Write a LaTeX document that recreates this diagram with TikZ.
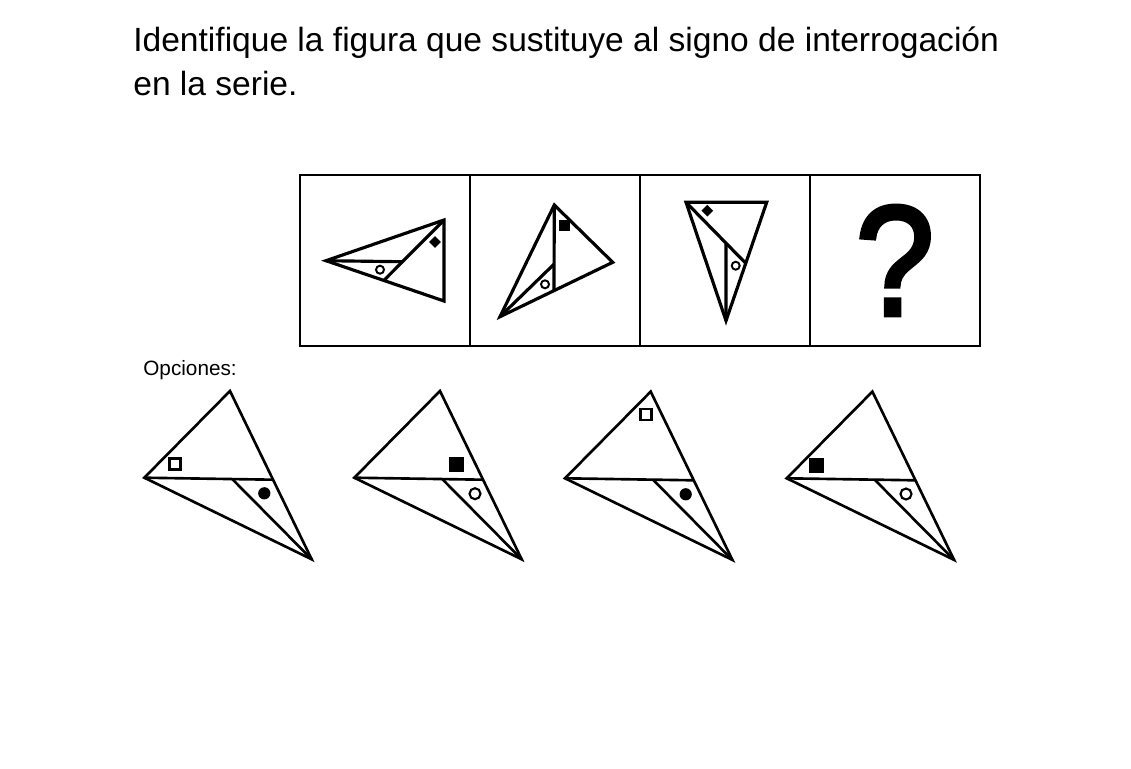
\documentclass[tikz,border=0pt]{standalone}
\usepackage{fontspec}
\usepackage{graphicx}
\setmainfont{Liberation Sans}
\newfontfamily\qmarkfont[FakeBold=3]{Liberation Sans}
\usetikzlibrary{positioning,calc,shapes.geometric}

\begin{document}
\begin{tikzpicture}[
    x=0.02cm, y=-0.02cm,
    cell/.style={rectangle, draw=black, line width=1.1pt, outer sep=0pt, inner sep=0pt, minimum width=3.4cm, minimum height=3.42cm},
    fig/.style={draw=black, line width=1.8pt, line join=miter},
    opt/.style={draw=black, line width=1.5pt, line join=miter},
    sring/.style={circle, draw=black, line width=1.1pt, inner sep=0pt, minimum size=0.16cm},
    sdiam/.style={diamond, fill=black, inner sep=0pt, minimum size=0.24cm},
    ssq/.style={rectangle, fill=black, inner sep=0pt, minimum size=0.22cm},
    oring/.style={circle, draw=black, line width=1.2pt, inner sep=0pt, minimum size=0.22cm},
    odisc/.style={circle, fill=black, inner sep=0pt, minimum size=0.245cm},
    osq/.style={rectangle, draw=black, line width=1.2pt, inner sep=0pt, minimum size=0.22cm},
    osqfill/.style={rectangle, fill=black, inner sep=0pt, minimum size=0.3cm},
    optri/.pic={
        \coordinate (-l) at (0,0);
        \coordinate (-t) at (85.7,-86.7);
        \coordinate (-r) at (167.4,81.6);
        \coordinate (-h) at ($(-t)!0.527!(-r)$);
        \coordinate (-m) at ($(-l)!0.683!(-h)$);
        \draw[opt] (-l) -- (-t) -- (-r) -- cycle;
        \draw[opt] (-l) -- (-h);
        \draw[opt] (-m) -- (-r);
    }
]
\useasboundingbox (0,0) rectangle (1131,768);

% question
\node[anchor=base west, inner sep=0pt, font=\fontsize{19.1}{23}\selectfont] (title) at (133,51) {Identifique la figura que sustituye al signo de interrogación};
\node[anchor=base west, inner sep=0pt, font=\fontsize{19.1}{23}\selectfont] (title2) at (133,95) {en la serie.};

% series
\node[cell] (c1) at (385,260.5) {};
\node[cell, right=0pt of c1] (c2) {};
\node[cell, right=0pt of c2] (c3) {};
\node[cell, right=0pt of c3, font=\fontsize{89}{89}\qmarkfont] (c4) {\scalebox{0.9}[1]{?}};

% figure 1
\coordinate (a1) at (326,260.7);
\coordinate (b1) at (444,220);
\coordinate (k1) at (444,301);
\coordinate (d1) at ($(a1)!0.49!(k1)$);
\coordinate (e1) at ($(b1)!0.69!(d1)$);
\draw[fig] (a1) -- (b1) -- (k1) -- cycle;
\draw[fig] (b1) -- (d1);
\draw[fig] (a1) -- (e1);
\node[sring] (r1) at (380,269.7) {};
\node[sdiam] (g1) at (435,242) {};

% figure 2
\coordinate (a2) at (554.3,205);
\coordinate (b2) at (612.7,262.3);
\coordinate (k2) at (500,316.7);
\coordinate (d2) at ($(k2)!0.479!(b2)$);
\coordinate (e2) at ($(a2)!0.69!(d2)$);
\draw[fig] (a2) -- (b2) -- (k2) -- cycle;
\draw[fig] (a2) -- (d2);
\draw[fig] (k2) -- (e2);
\node[sring] (r2) at (545,284.3) {};
\node[ssq] (q2) at (564.3,225.7) {};

% figure 3
\coordinate (a3) at (686,202.3);
\coordinate (b3) at (766.7,202.3);
\coordinate (k3) at (726,320.7);
\coordinate (d3) at ($(b3)!0.515!(k3)$);
\coordinate (e3) at ($(a3)!0.67!(d3)$);
\draw[fig] (a3) -- (b3) -- (k3) -- cycle;
\draw[fig] (a3) -- (d3);
\draw[fig] (e3) -- (k3);
\node[sring] (r3) at (735.7,265.7) {};
\node[sdiam] (g3) at (707.3,210.7) {};

% options
\node[anchor=base west, inner sep=0pt, font=\fontsize{11.8}{14}\selectfont] (opts) at (143,375) {Opciones:};

\pic (o1) at (144.3,477.7) {optri};
\node[osq] (o1s) at (175,464) {};
\node[odisc] (o1c) at (264.3,493.3) {};

\pic (o2) at (354.3,477.7) {optri};
\node[osqfill] (o2s) at (456,464) {};
\node[oring] (o2c) at (475,493.7) {};

\pic (o3) at (565,478.3) {optri};
\node[osq] (o3s) at (646,414.3) {};
\node[odisc] (o3c) at (685.7,494.3) {};

\pic (o4) at (786.7,478.3) {optri};
\node[osqfill] (o4s) at (816.7,465) {};
\node[oring] (o4c) at (906,494) {};

\end{tikzpicture}
\end{document}
